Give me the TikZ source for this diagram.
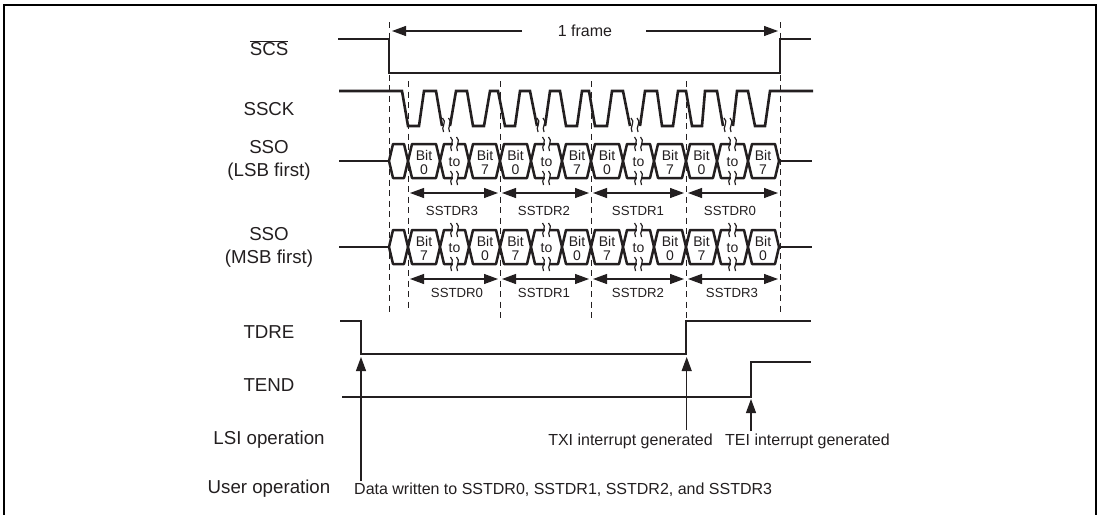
\documentclass[tikz,border=0pt]{standalone}
\usepackage{fontspec}
\setmainfont{Liberation Sans}
\usetikzlibrary{arrows.meta}
\definecolor{ink}{HTML}{231F20}
\tikzset{
  x=1pt,y=-1pt,
  sig/.style={draw=ink,line width=2.6pt,line join=miter},
  bus/.style={draw=ink,line width=2.5pt,line join=round,fill=white},
  guide/.style={draw=ink,line width=1pt,dash pattern=on 6pt off 4.5pt},
  dim/.style={draw=ink,line width=1.1pt,{Triangle[length=14pt,width=10pt]}-{Triangle[length=14pt,width=10pt]}},
  one/.style={draw=ink,line width=1.1pt,-{Triangle[length=14pt,width=10pt]}},
  lab/.style={text=ink,font=\fontsize{18.7}{23}\selectfont,align=center,inner sep=0pt},
  note/.style={text=ink,font=\fontsize{16}{18}\selectfont,align=center,inner sep=0pt},
  small/.style={text=ink,font=\fontsize{13.2}{15}\selectfont,align=center,inner sep=0pt},
  bit/.style={text=ink,font=\fontsize{14}{14}\selectfont,align=center,inner sep=0pt},
  wavy/.style={draw=ink,line width=1.2pt},
}
\newcommand{\squig}[2]{% S-curve pair, centred on x=#1,y=#2
  \draw[wavy] (#1-4,#2-7) .. controls (#1+1,#2-3) and (#1-6,#2+2) .. (#1-3,#2+7);
  \draw[wavy] (#1+2,#2-7) .. controls (#1+7,#2-3) and (#1,#2+2) .. (#1+3,#2+7);
}
\newcommand{\buscell}[3]{% left, right, top y
  \draw[bus] (#1,#3+17) -- (#1+4,#3) -- (#2-4,#3) -- (#2,#3+17) -- (#2-4,#3+34) -- (#1+4,#3+34) -- cycle;
}
\newcommand{\busrow}[3]{% top y, first bit, last bit
  \draw[sig] (339,#1+17) -- (389,#1+17);
  \draw[sig] (778,#1+17) -- (812,#1+17);
  \foreach \a/\b in {389/408,408/440,440/469,469/500,500/531,531/562,562/591,591/623,623/654,654/686,686/717,717/748,748/779}{\buscell{\a}{\b}{#1}}
  \foreach \c in {424,515.5,607,701.5}{\node[bit] at (\c,#1+18.5) {Bit\\#2};}
  \foreach \c in {485,577,670,763}{\node[bit] at (\c,#1+18.5) {Bit\\#3};}
  \foreach \c in {454.5,546.5,638.5,732.5}{
    \node[bit] at (\c,#1+18) {to};
    \fill[white] (\c-2,#1-3) rectangle (\c+2,#1+3);
    \fill[white] (\c-2,#1+31) rectangle (\c+2,#1+37);
    \squig{\c}{#1}
    \squig{\c}{#1+34}
  }
}
\begin{document}
\begin{tikzpicture}
\useasboundingbox (0,0) rectangle (1099,514);
\fill[white] (0,0) rectangle (1099,514);
\draw[draw=black,line width=2.6pt] (4,515) -- (4,5) -- (1096,5) -- (1096,515);
% guides
\foreach \x/\a/\b in {389/22/313,408/81/310,500/81/318,591/81/318,686/81/340,780/22/316}{\draw[guide] (\x,\a) -- (\x,\b);}
% SCS
\draw[sig] (338,39) -- (389,39) -- (389,73) -- (780,73) -- (780,39) -- (811,39);
% 1 frame
\node[note] (frame) at (585,31) {1 frame};
\coordinate (fl) at (392,31); \coordinate (fr) at (778,31);
\coordinate (fla) at (522,31); \coordinate (fra) at (646,31);
\draw[one] (fla) -- (fl);
\draw[one] (fra) -- (fr);
% SSCK
\draw[sig,line join=miter] (339,91) -- (402,91)
 -- (408,126) -- (419,126) -- (424,91) -- (436,91) -- (442,126)
 (450,126) -- (456,91) -- (467,91) -- (473,126) -- (484,126) -- (490,91) -- (498,91)
 -- (505,126) -- (515,126) -- (520,91) -- (530,91) -- (537,126)
 (545,126) -- (550,91) -- (560,91) -- (566,126) -- (577,126) -- (582,91) -- (589,91)
 -- (595,126) -- (607,126) -- (612,91) -- (623,91) -- (630,126)
 (640,126) -- (645,91) -- (657,91) -- (662,126) -- (673,126) -- (678,91) -- (686,91)
 -- (692,126) -- (702,126) -- (705,91) -- (717,91) -- (723,126)
 (733,126) -- (737,91) -- (748,91) -- (755,126) -- (765,126) -- (770,91) -- (813,91);
\foreach \c in {446.5,541,635,728}{\squig{\c}{125}}
% buses
\busrow{144}{0}{7}
\busrow{230}{7}{0}
% dims
\foreach \a/\b/\c/\t in {410/498/452/SSTDR3,502/589/544/SSTDR2,593/684/638/SSTDR1,688/778/730/SSTDR0}{
  \coordinate (p) at (\a,193); \coordinate (q) at (\b,193);
  \draw[dim] (p) -- (q);
  \node[small] at (\c,211) {\t};}
\foreach \a/\b/\c/\t in {410/498/457/SSTDR0,502/589/544/SSTDR1,593/684/638/SSTDR2,688/778/732/SSTDR3}{
  \coordinate (p) at (\a,279); \coordinate (q) at (\b,279);
  \draw[dim] (p) -- (q);
  \node[small] at (\c,293) {\t};}
% flags
\draw[sig] (340,321) -- (361,321) -- (361,354) -- (686,354) -- (686,321) -- (811,321);
\draw[sig] (342,397) -- (751,397) -- (751,362) -- (811,362);
% arrows
\coordinate (a1) at (361,481); \coordinate (a1t) at (361,357);
\coordinate (a2) at (686.7,430); \coordinate (a2t) at (686.7,357);
\coordinate (a3) at (751,431); \coordinate (a3t) at (751,399);
\draw[one] (a1) -- (a1t);
\draw[one] (a2) -- (a2t);
\draw[one] (a3) -- (a3t);
% labels
\node[lab] (scs) at (269,48) {$\overline{\hbox{SCS}}$};
\node[lab] (ssck) at (269,109) {SSCK};
\node[lab] (lsb) at (269,160) {SSO\\(LSB first)};
\node[lab] (msb) at (269,247) {SSO\\(MSB first)};
\node[lab] (tdre) at (269,332) {TDRE};
\node[lab] (tend) at (269,385) {TEND};
\node[lab] (lsi) at (269,440) {LSI operation};
\node[lab] (usr) at (269,489) {User operation};
\node[note,anchor=east] (txi) at (713,441.5) {TXI interrupt generated};
\node[note,anchor=west] (tei) at (725,441.5) {TEI interrupt generated};
\node[note,anchor=west] (data) at (354,490) {Data written to SSTDR0, SSTDR1, SSTDR2, and SSTDR3};
\end{tikzpicture}
\end{document}
